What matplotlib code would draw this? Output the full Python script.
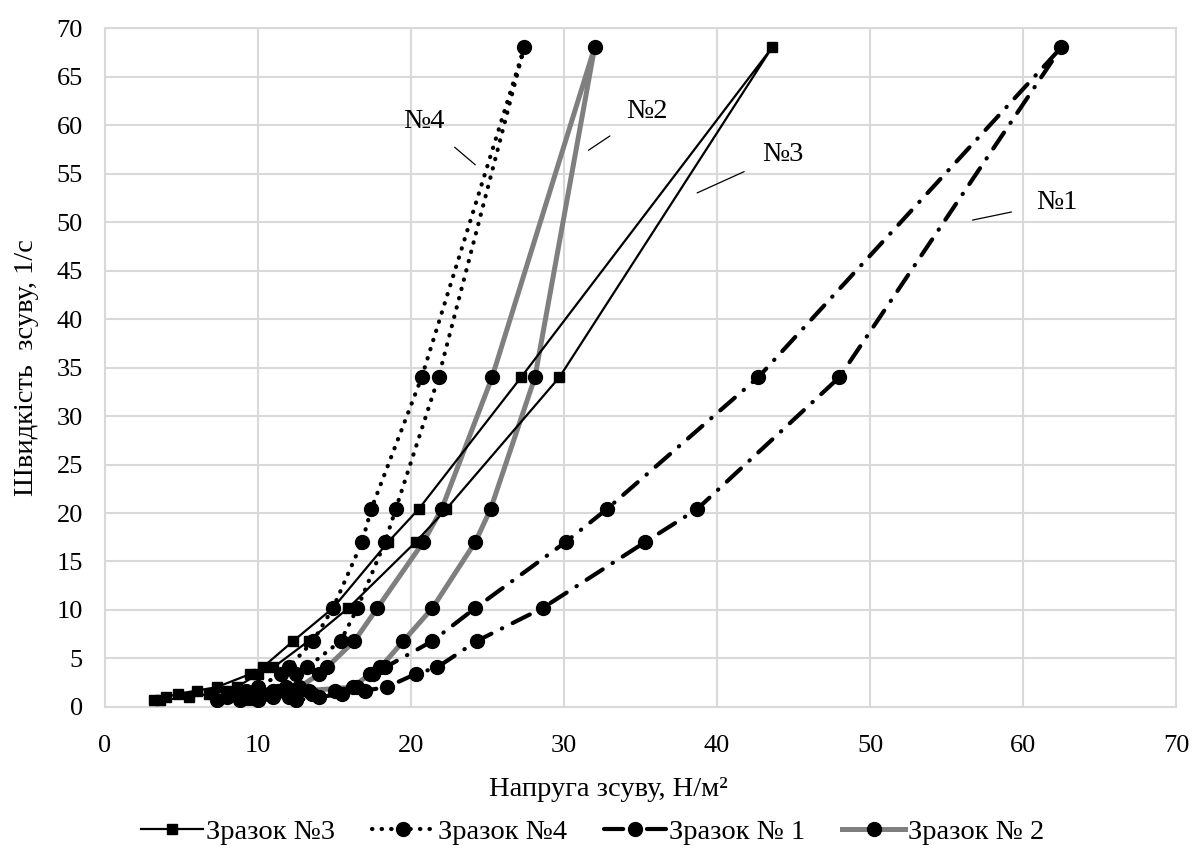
import numpy as np
import matplotlib.pyplot as plt

# Shear rate levels, 1/s (loop goes up one branch and back down the other)
rate_levels = [0.68, 1.02, 1.36, 1.7, 2.04, 3.4, 4.08, 6.8, 10.2, 17, 20.4, 34, 68]

# Shear stress, N/m2 - branch A (ends at the top point) and branch B (return)
s3_a = [3.2, 4.0, 4.8, 6.0, 7.3, 9.5, 10.3, 12.3, 14.9, 18.5, 20.5, 27.2, 43.6]
s3_b = [3.6, 5.5, 6.8, 8.0, 8.6, 10.0, 11.0, 13.3, 15.9, 20.3, 22.3, 29.7]

s4_a = [7.3, 8.0, 8.5, 9.2, 10.0, 11.5, 12.0, 13.6, 14.9, 16.8, 17.4, 20.7, 27.4]
s4_b = [8.8, 9.5, 10.2, 11.0, 11.8, 12.5, 13.2, 15.4, 16.5, 18.3, 19.0, 21.8]

s1_a = [10.0, 12.0, 13.5, 15.0, 16.5, 17.5, 18.3, 21.4, 24.2, 30.1, 32.8, 42.7, 62.5]
s1_b = [12.5, 14.0, 15.5, 17.0, 18.4, 20.3, 21.7, 24.3, 28.6, 35.3, 38.7, 48.0]

s2_a = [9.3, 10.0, 10.7, 11.3, 12.7, 14.0, 14.5, 16.3, 17.8, 20.8, 22.0, 25.3, 32.0]
s2_b = [10.0, 11.0, 12.0, 13.3, 16.2, 17.3, 18.0, 19.5, 21.4, 24.2, 25.2, 28.1]

labels = ["Зразок №3", "Зразок №4", "Зразок № 1", "Зразок № 2"]
tags = ["№3", "№4", "№1", "№2"]


def loop(a, b):
    x = list(a) + list(b)[::-1]
    y = list(rate_levels) + list(rate_levels[:-1])[::-1]
    return x, y


plt.rcParams['font.family'] = ['Liberation Serif', 'DejaVu Serif']
fs = 20.5

fig = plt.figure(figsize=(11.96, 8.52), dpi=100)
ax = fig.add_axes([0.0878, 0.1702, 0.8955, 0.7969])

x, y = loop(s3_a, s3_b)
ax.plot(x, y, color='black', lw=1.6, marker='s', ms=7.5, label=labels[0], zorder=4)

x, y = loop(s4_a, s4_b)
ax.plot(x, y, color='black', lw=3.0, linestyle=(0, (0.1, 2.2)), dash_capstyle='round',
        marker='o', ms=10, label=labels[1], zorder=3)

x, y = loop(s1_a, s1_b)
ax.plot(x, y, color='black', lw=3.0, linestyle=(0, (4.6, 2.8, 0.1, 2.8)), dash_capstyle='round',
        marker='o', ms=10, label=labels[2], zorder=3)

x, y = loop(s2_a, s2_b)
ax.plot(x, y, color='#7f7f7f', lw=3.6, marker='o', mfc='black', mec='black', ms=10,
        label=labels[3], zorder=2)

# Curve tags with leader lines
arrow = dict(arrowstyle='-', color='black', lw=0.9, shrinkA=12, shrinkB=0)
ax.annotate(tags[1], xy=(24.2, 55.9), xytext=(20.85, 60.4), fontsize=fs, ha='center', va='center',
            arrowprops=arrow)
ax.annotate(tags[3], xy=(31.6, 57.4), xytext=(35.4, 61.4), fontsize=fs, ha='center', va='center',
            arrowprops=arrow)
ax.annotate(tags[0], xy=(38.7, 53.0), xytext=(44.3, 57.0), fontsize=fs, ha='center', va='center',
            arrowprops=arrow)
ax.annotate(tags[2], xy=(56.7, 50.2), xytext=(62.2, 52.0), fontsize=fs, ha='center', va='center',
            arrowprops=dict(arrowstyle='-', color='black', lw=0.9, shrinkA=16, shrinkB=0))

ax.set_xlim(0, 70)
ax.set_ylim(0, 70)
ax.set_xticks(np.arange(0, 71, 10))
ax.set_yticks(np.arange(0, 71, 5))
ax.tick_params(length=0, labelsize=19)
ax.tick_params(axis='x', pad=20)
ax.tick_params(axis='y', pad=16)
ax.grid(True, color='#d9d9d9', lw=1.5)
ax.set_axisbelow(True)
for sp in ax.spines.values():
    sp.set_color('#d9d9d9')
    sp.set_linewidth(1.5)

ax.set_xlabel("Напруга зсуву, Н/м²", fontsize=fs)
ax.xaxis.set_label_coords(0.47, -0.103)
ax.set_ylabel("Швидкість  зсуву, 1/с", fontsize=fs)
ax.yaxis.set_label_coords(-0.062, 0.5)

ax.legend(loc='center', bbox_to_anchor=(0.455, -0.184), ncol=4, frameon=False,
          fontsize=fs, handlelength=2.2, columnspacing=1.3, handletextpad=0.1)

fig.savefig('out.png', dpi=100)
